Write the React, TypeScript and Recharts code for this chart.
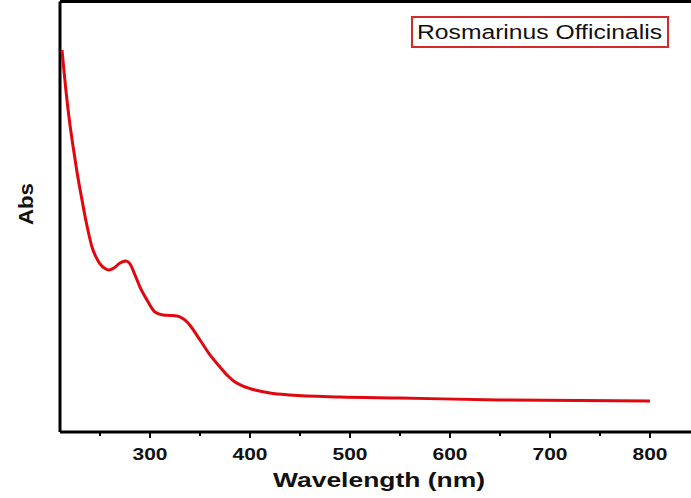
import { Legend, Line, LineChart, ReferenceLine, XAxis, YAxis } from "recharts";

const wavelengths = [
  212, 214, 216, 218, 220, 223, 227, 232, 236, 239, 242, 246, 250, 255, 259, 264, 270, 276, 280, 285,
  290, 297, 305, 313, 320, 327, 337, 350, 360, 370, 378, 385, 393, 405, 420, 440, 490, 550, 650, 800,
];
const absorbance = [
  2.662, 2.516, 2.376, 2.251, 2.139, 1.993, 1.812, 1.617, 1.47, 1.373, 1.289, 1.22, 1.171, 1.139, 1.129,
  1.143, 1.178, 1.192, 1.171, 1.094, 1.01, 0.92, 0.836, 0.815, 0.812, 0.808, 0.767, 0.641, 0.537, 0.453,
  0.39, 0.348, 0.32, 0.293, 0.272, 0.258, 0.244, 0.237, 0.223, 0.216,
];
const xTicks = [250, 300, 350, 400, 450, 500, 550, 600, 650, 700, 750, 800];
const seriesName = "Rosmarinus Officinalis";

const data = wavelengths.map((nm, i) => ({ nm, abs: absorbance[i] }));

const FONT = "'Liberation Sans', Arial, sans-serif";

function WaveTick(props: any) {
  const { x, y, payload } = props;
  const major = payload.value % 100 === 0;
  return (
    <g>
      <line x1={x} x2={x} y1={y} y2={y + (major ? 6 : 4)} stroke="#000" strokeWidth={2} />
      {major && (
        <text
          x={x}
          y={y + 28}
          textAnchor="middle"
          fontFamily={FONT}
          fontWeight="bold"
          fontSize={17}
          fill="#111"
          textLength={35}
          lengthAdjust="spacingAndGlyphs"
        >
          {payload.value}
        </text>
      )}
    </g>
  );
}

function NameBox(props: any) {
  const name = props.payload?.[0]?.value ?? seriesName;
  return (
    <svg width={258} height={32}>
      <rect x={1} y={1} width={256} height={30} fill="#fff" stroke="#d42a2a" strokeWidth={2} />
      <text x={6} y={23} fontFamily={FONT} fontSize={20} fill="#111" textLength={245} lengthAdjust="spacingAndGlyphs">
        {name}
      </text>
    </svg>
  );
}

function AbsLabel() {
  const cx = 33;
  const cy = 204;
  return (
    <text
      x={cx}
      y={cy}
      transform={`rotate(-90, ${cx}, ${cy})`}
      textAnchor="middle"
      fontFamily={FONT}
      fontWeight="bold"
      fontSize={20}
      fill="#111"
      textLength={42}
      lengthAdjust="spacingAndGlyphs"
    >
      Abs
    </text>
  );
}

export default function App() {
  return (
    <div style={{ position: "fixed", left: 0, top: 0, width: 691, height: 498, overflow: "hidden", background: "#fff" }}>
      <LineChart width={720} height={498} data={data} margin={{ top: 1.5, right: 20, bottom: 0, left: 60 }}>
        <XAxis
          dataKey="nm"
          type="number"
          domain={[210, 850]}
          ticks={xTicks}
          interval={0}
          height={66}
          tickLine={false}
          tickSize={0}
          tickMargin={0}
          axisLine={{ stroke: "#000", strokeWidth: 3 }}
          tick={<WaveTick />}
          label={{
            content: (p: any) => {
              const vb = p.viewBox || { x: 60, width: 640 };
              return (
                <text
                  x={vb.x + vb.width / 2 - 1}
                  y={487}
                  textAnchor="middle"
                  fontFamily={FONT}
                  fontWeight="bold"
                  fontSize={21}
                  fill="#111"
                  textLength={212}
                  lengthAdjust="spacingAndGlyphs"
                >
                  Wavelength (nm)
                </text>
              );
            },
          }}
        />
        <YAxis type="number" domain={[0, 3]} hide />
        <ReferenceLine y={3} stroke="#000" strokeWidth={3} />
        <ReferenceLine x={210} stroke="#000" strokeWidth={3} label={{ content: () => <AbsLabel /> }} />
        <ReferenceLine x={850} stroke="#000" strokeWidth={3} />
        <Legend
          layout="horizontal"
          verticalAlign="middle"
          align="center"
          content={<NameBox />}
          wrapperStyle={{ position: "absolute", left: 411, top: 16, width: 258, height: 32 }}
        />
        <Line
          name={seriesName}
          type="monotone"
          dataKey="abs"
          stroke="#e0070f"
          strokeWidth={3}
          dot={false}
          isAnimationActive={false}
        />
      </LineChart>
    </div>
  );
}
